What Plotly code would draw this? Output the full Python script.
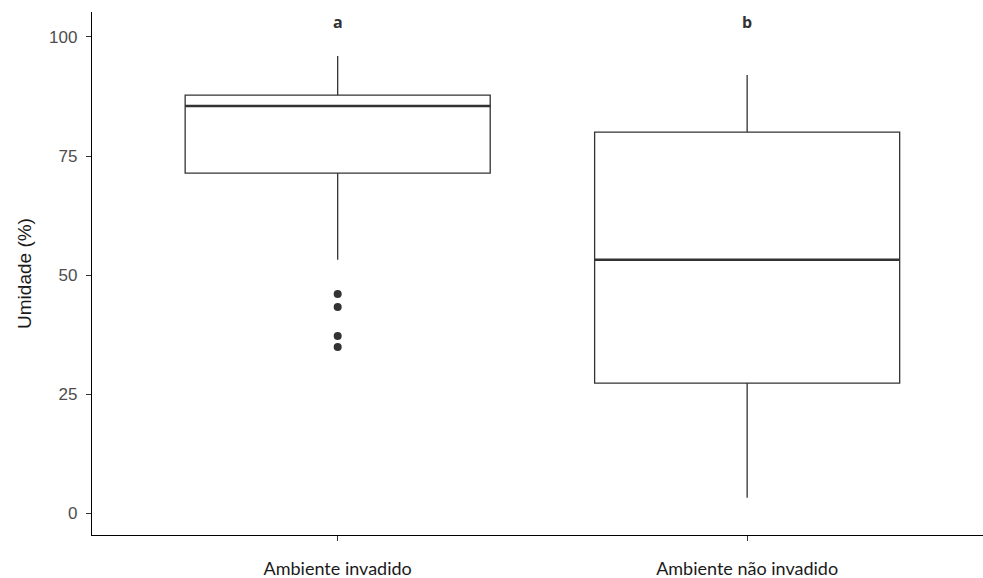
import plotly.graph_objects as go

categories = ["Ambiente invadido", "Ambiente não invadido"]
q1 = [71.4, 27.3]
median = [85.5, 53.2]
q3 = [87.8, 80.0]
lowerfence = [53.2, 3.2]
upperfence = [96.0, 92.0]
outliers_cat = [0, 0, 0, 0]
outliers_val = [46.0, 43.3, 37.2, 34.9]
letters = ["a", "b"]
letter_y = 103.2
yticks = [0, 25, 50, 75, 100]

BOX_W = 0.745
pos = list(range(len(categories)))

fig = go.Figure()
for i, c in enumerate(categories):
    fig.add_trace(go.Box(
        x=[pos[i]], q1=[q1[i]], median=[median[i]], q3=[q3[i]],
        lowerfence=[lowerfence[i]], upperfence=[upperfence[i]],
        width=BOX_W, whiskerwidth=0, boxpoints=False,
        fillcolor="white", line=dict(color="#333333", width=1.3),
        showlegend=False, hoverinfo="skip"))
    fig.add_trace(go.Scatter(
        x=[pos[i] - BOX_W / 2, pos[i] + BOX_W / 2], y=[median[i], median[i]],
        mode="lines", line=dict(color="#333333", width=2.6),
        showlegend=False, hoverinfo="skip"))

fig.add_trace(go.Scatter(
    x=outliers_cat, y=outliers_val, mode="markers",
    marker=dict(color="#333333", size=8), showlegend=False))

for i, t in enumerate(letters):
    fig.add_annotation(x=pos[i], y=letter_y, text="<b>%s</b>" % t, showarrow=False,
                       font=dict(family="Open Sans", size=16, color="#333333"))

fig.update_layout(
    width=983, height=578,
    margin=dict(l=92, r=0, t=12, b=43),
    plot_bgcolor="white", paper_bgcolor="white",
    xaxis=dict(range=[-0.6, 1.576], tickvals=pos, ticktext=categories,
               showgrid=False, zeroline=False, showline=True, linecolor="black", linewidth=1.3,
               ticks="outside", ticklen=5, tickcolor="#333333", ticklabelstandoff=12,
               tickfont=dict(family="Lato", size=18, color="#1a1a1a")),
    yaxis=dict(range=[-4.62, 105.25], tickvals=yticks,
               showgrid=False, zeroline=False, showline=True, linecolor="black", linewidth=1.3,
               ticks="outside", ticklen=5, tickcolor="#333333", ticklabelstandoff=5,
               tickfont=dict(family="Liberation Sans", size=17, color="#4D4D4D"),
               title=dict(text="Umidade (%)", font=dict(family="Liberation Sans", size=19, color="#1a1a1a"), standoff=12)),
)
fig.write_html("out.html")
